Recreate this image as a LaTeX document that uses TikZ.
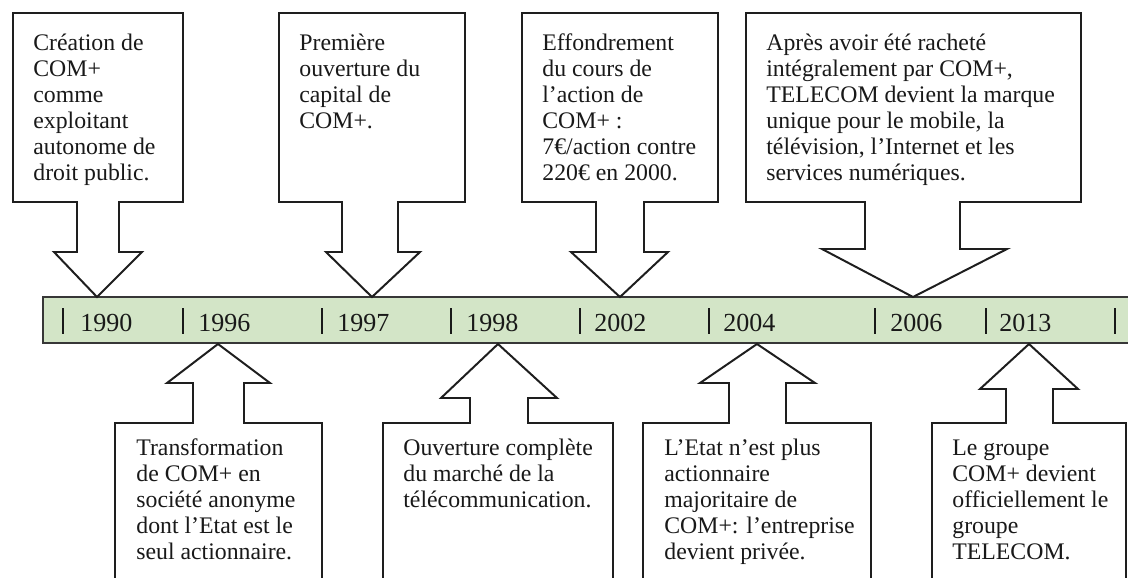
\documentclass[tikz,border=0pt]{standalone}
\usepackage{fontspec}
\setmainfont{Liberation Serif}
\definecolor{barfill}{RGB}{211,229,199}
\definecolor{barline}{RGB}{55,55,55}
\definecolor{boxline}{RGB}{30,30,30}
\tikzset{
  callout/.style={draw=boxline, line width=1.05pt, fill=white, line join=miter},
  boxtext/.style={anchor=north west, inner sep=0pt, align=left,
     font=\fontsize{12.6}{13.8}\selectfont, text=black!90},
  yeartext/.style={anchor=base west, inner sep=0pt,
     font=\fontsize{13.8}{15}\selectfont, text=black!90},
  ticklin/.style={line width=1.1pt, draw=black!90},
  timebar/.style={draw=barline, line width=1.05pt, fill=barfill}
}
\begin{document}
\begin{tikzpicture}[x=0.53pt,y=-0.53pt]
\useasboundingbox (0,0) rectangle (1128,577);
\begin{scope}
\clip (0,0) rectangle (1128,577);
% timeline bar
\path[timebar] (43,297) rectangle (1140,343);
\coordinate (bar) at (43,297);

% ---- top callouts ----
% 1990
\path[callout] (13,13) -- (183,13) -- (183,202) -- (119,202) -- (119,252) -- (142,252)
  -- (97,297) coordinate (t1990) -- (54,252) -- (77,252) -- (77,202) -- (13,202) -- cycle;
\node[boxtext] (c1990) at (33,31.8) {\strut Création de\\COM+\\comme\\exploitant\\autonome de\\droit public.};
% 1997
\path[callout] (279,13) -- (465,13) -- (465,202) -- (398,202) -- (398,252) -- (420,252)
  -- (372,297) coordinate (t1997) -- (326,252) -- (342,252) -- (342,202) -- (279,202) -- cycle;
\node[boxtext] (c1997) at (299,31.8) {\strut Première\\ouverture du\\capital de\\COM+.};
% 2002
\path[callout] (522,13) -- (718,13) -- (718,202) -- (644,202) -- (644,252) -- (668,252)
  -- (620,297) coordinate (t2002) -- (571,252) -- (596,252) -- (596,202) -- (522,202) -- cycle;
\node[boxtext] (c2002) at (542,31.8) {\strut Effondrement\\du cours de\\l’action de\\COM+ :\\7€/action contre\\220€ en 2000.};
% 2006
\path[callout] (746,13) -- (1081,13) -- (1081,202) -- (960,202) -- (960,249) -- (1007,249)
  -- (913,297) coordinate (t2006) -- (822,249) -- (865,249) -- (865,202) -- (746,202) -- cycle;
\node[boxtext] (c2006) at (766,31.8) {\strut Après avoir été racheté\\intégralement par COM+,\\TELECOM devient la marque\\unique pour le mobile, la\\télévision, l’Internet et les\\services numériques.};

% ---- bottom callouts ----
% 1996
\path[callout] (115,600) -- (115,423) -- (193,423) -- (193,383) -- (167,383)
  -- (218,344) coordinate (t1996) -- (270,383) -- (244,383) -- (244,423) -- (322,423) -- (322,600);
\node[boxtext] (c1996) at (136,436.8) {\strut Transformation\\de COM+ en\\société anonyme\\dont l’Etat est le\\seul actionnaire.};
% 1998
\path[callout] (383,600) -- (383,423) -- (470,423) -- (470,398) -- (441,398)
  -- (498,344) coordinate (t1998) -- (557,398) -- (528,398) -- (528,423) -- (613,423) -- (613,600);
\node[boxtext] (c1998) at (403,436.8) {\strut Ouverture complète\\du marché de la\\télécommunication.};
% 2004
\path[callout] (643,600) -- (643,423) -- (729,423) -- (729,383) -- (700,383)
  -- (757,344) coordinate (t2004) -- (815,383) -- (786,383) -- (786,423) -- (871,423) -- (871,600);
\node[boxtext] (c2004) at (664,436.8) {\strut L’Etat n’est plus\\actionnaire\\majoritaire de\\COM+: l’entreprise\\devient privée.};
% 2013
\path[callout] (932,600) -- (932,423) -- (1006,423) -- (1006,389) -- (980,389)
  -- (1029,344) coordinate (t2013) -- (1078,389) -- (1053,389) -- (1053,423) -- (1126,423) -- (1126,600);
\node[boxtext] (c2013) at (952,436.8) {\strut Le groupe\\COM+ devient\\officiellement le\\groupe\\TELECOM.};

% ---- ticks and years ----
\foreach \tx/\yx/\yr in {63/80/1990, 183/198/1996, 322/337/1997, 451/466/1998,
                         580/594/2002, 709/723/2004, 875/890/2006, 986/999/2013} {
  \draw[ticklin] (\tx,308) -- (\tx,334);
  \node[yeartext] (y\yr) at (\yx,331) {\yr};
}
\draw[ticklin] (1115,308) -- (1115,334);
\end{scope}
\end{tikzpicture}
\end{document}
